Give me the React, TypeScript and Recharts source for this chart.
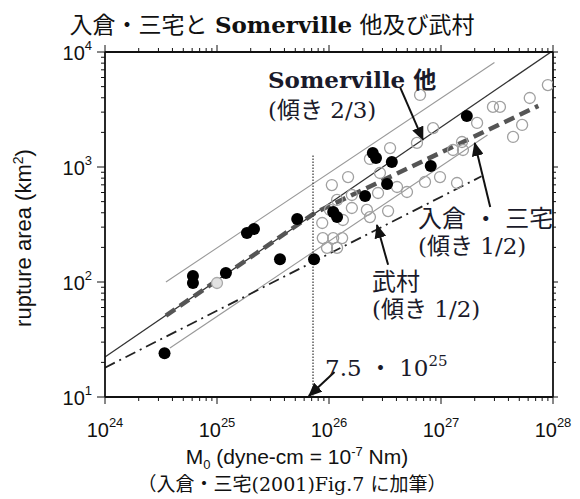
import { ComposedChart, Line, Scatter, XAxis, YAxis, ReferenceLine } from 'recharts'

// seismic moment M0 (dyne-cm) vs rupture area (km2)
const filledM0 = [3.4e24, 6.1e24, 6.1e24, 1.2e25, 1.85e25, 2.14e25, 3.65e25, 5.2e25, 7.35e25, 1.09e26, 1.18e26, 2.1e26, 3.3e26, 2.46e26, 2.63e26, 3.64e26, 8.1e26, 1.7e27]
const filledArea = [24, 113, 98, 120, 267, 289, 158, 353, 158, 406, 367, 560, 711, 1325, 1200, 1105, 1020, 2770]

const openM0 = [
  3.51e26, 2.32e26, 2.85e26, 1.48e26, 1.06e26, 1.6e26, 1.18e26, 1.6e26, 1.33e26, 8.7e25,
  8.8e25, 1.09e26, 1.31e26, 9.6e25, 1.18e26, 4.97e26, 3.37e26, 6.5e26, 8.5e26, 6.1e26,
  1.28e27, 1.57e27, 2.91e27, 3.36e27, 2.1e27, 4.4e27, 6.2e27, 9.0e27, 9.8e26, 1.39e27,
  4.05e26, 5.3e27, 1.54e27, 7.2e26, 1.02e26, 2.18e26, 2.74e26, 2.32e26,
]
const openArea = [
  1462, 1175, 887, 818, 697, 571, 517, 440, 346, 326,
  241, 241, 241, 198, 198, 606, 414, 4230, 2180, 1620,
  1406, 1406, 3330, 3330, 2415, 1825, 3980, 5160, 818, 726,
  670, 2320, 1650, 741, 423, 423, 594, 367,
]
const greyM0 = [1.0e25]
const greyArea = [98]

// scaling relations, end points
const somervilleM0 = [1e24, 9.6e27]
const somervilleArea = [22.3, 10000]
const upperM0 = [3.5e24, 3.0e27]
const upperArea = [100, 8100]
const lowerM0 = [3.8e24, 2.6e27]
const lowerArea = [26.7, 1900]
const irikuraM0 = [3.5e24, 7.5e25, 7.4e27]
const irikuraArea = [51, 400, 3400]
const takemuraM0 = [1e24, 2.3e27]
const takemuraArea = [18, 830]
const cornerM0 = [7.2e25, 7.2e25]
const cornerArea = [10, 1300]

// arrows: [fromM0, fromArea, toM0, toArea]
const arrows = [
  [4.3e26, 4970, 6.9e26, 1720],
  [2.75e27, 449, 2.0e27, 1620],
  [3.37e26, 141, 2.68e26, 313],
  [1.12e26, 16.5, 6.6e25, 10.2],
]

const xMajor = [1e24, 1e25, 1e26, 1e27, 1e28]
const yMajor = [1e1, 1e2, 1e3, 1e4]

const pts = (xs: number[], ys: number[]) => xs.map((m, i) => ({ m, a: ys[i] }))

const minorTicks = (majors: number[]) => {
  const out: number[] = []
  majors.forEach((d, i) => {
    out.push(d)
    if (i < majors.length - 1) for (let k = 2; k <= 9; k++) out.push(d * k)
  })
  return out
}
const xTicks = minorTicks(xMajor)
const yTicks = minorTicks(yMajor)

const isMajor = (v: number) => Math.abs(Math.log10(v) - Math.round(Math.log10(v))) < 1e-6
const expOf = (v: number) => Math.round(Math.log10(v))

const SANS = '"Liberation Sans", Arial, sans-serif'
const SERIF = '"DejaVu Serif", "Noto Sans CJK JP", serif'
const INK = '#111'

const BottomTick = (p: any) => {
  const v = p.payload.value
  const big = isMajor(v)
  return (
    <g>
      <line x1={p.x} x2={p.x} y1={p.y} y2={p.y + (big ? 7 : 4)} stroke={INK} strokeWidth={1} />
      {big && (
        <text x={p.x} y={p.y + 40} textAnchor="middle" fontFamily={SANS} fontSize={20} fill={INK}>
          10<tspan dy={-10} fontSize={13}>{expOf(v)}</tspan>
        </text>
      )}
    </g>
  )
}

const TopTick = (p: any) => {
  const big = isMajor(p.payload.value)
  return <line x1={p.x} x2={p.x} y1={p.y} y2={p.y - (big ? 7 : 4)} stroke={INK} strokeWidth={1} />
}

const LeftTick = (p: any) => {
  const v = p.payload.value
  const big = isMajor(v)
  return (
    <g>
      <line x1={p.x} x2={p.x - (big ? 8 : 4)} y1={p.y} y2={p.y} stroke={INK} strokeWidth={1} />
      {big && (
        <text x={p.x - 13} y={p.y + 8} textAnchor="end" fontFamily={SANS} fontSize={20} fill={INK}>
          10<tspan dy={-10} fontSize={13}>{expOf(v)}</tspan>
        </text>
      )}
    </g>
  )
}

const RightTick = (p: any) => {
  const big = isMajor(p.payload.value)
  return <line x1={p.x} x2={p.x + (big ? 5 : 3)} y1={p.y} y2={p.y} stroke={INK} strokeWidth={1} />
}

const OpenDot = (p: any) => <circle cx={p.cx} cy={p.cy} r={5.5} fill="none" stroke="#a0a0a0" strokeWidth={1.3} />
const GreyDot = (p: any) => <circle cx={p.cx} cy={p.cy} r={5.5} fill="#e2e2e2" stroke="#aaa" strokeWidth={1.3} />
const FilledDot = (p: any) => <circle cx={p.cx} cy={p.cy} r={6} fill="#000" />

export default function App() {
  const axisLine = { stroke: INK, strokeWidth: 1.8 }
  return (
    <div style={{ position: 'absolute', left: 0, top: 0, width: 580, height: 499, background: '#fff' }}>
      <ComposedChart width={580} height={499} margin={{ top: 42, right: 17, bottom: 57, left: 60 }}>
        <defs>
          <marker id="head" markerUnits="userSpaceOnUse" markerWidth={14} markerHeight={12} refX={13} refY={6} orient="auto">
            <path d="M0,0 L14,6 L0,12 z" fill={INK} />
          </marker>
        </defs>
        <XAxis dataKey="m" type="number" scale="log" domain={[1e24, 1e28]} ticks={xTicks} interval={0}
          height={45} tickSize={0} tickMargin={0} tickLine={false} axisLine={axisLine} tick={BottomTick} allowDataOverflow />
        <XAxis xAxisId="top" orientation="top" dataKey="m" type="number" scale="log" domain={[1e24, 1e28]} ticks={xTicks}
          interval={0} height={10} tickSize={0} tickMargin={0} tickLine={false} axisLine={axisLine} tick={TopTick} allowDataOverflow />
        <YAxis dataKey="a" type="number" scale="log" domain={[10, 10000]} ticks={yTicks} interval={0}
          width={45} tickSize={0} tickMargin={0} tickLine={false} axisLine={axisLine} tick={LeftTick} allowDataOverflow />
        <YAxis yAxisId="right" orientation="right" dataKey="a" type="number" scale="log" domain={[10, 10000]} ticks={yTicks}
          interval={0} width={10} tickSize={0} tickMargin={0} tickLine={false} axisLine={axisLine} tick={RightTick} allowDataOverflow />

        <Line data={pts(upperM0, upperArea)} dataKey="a" type="linear" stroke="#999" strokeWidth={1.1} dot={false} isAnimationActive={false} />
        <Line data={pts(lowerM0, lowerArea)} dataKey="a" type="linear" stroke="#999" strokeWidth={1.1} dot={false} isAnimationActive={false} />
        <Line data={pts(somervilleM0, somervilleArea)} dataKey="a" type="linear" stroke="#333" strokeWidth={1.3} dot={false} isAnimationActive={false} />
        <Line data={pts(takemuraM0, takemuraArea)} dataKey="a" type="linear" stroke="#222" strokeWidth={1.8}
          strokeDasharray="11 5 2 5" dot={false} isAnimationActive={false} />
        <Line data={pts(irikuraM0, irikuraArea)} dataKey="a" type="linear" stroke="#555" strokeWidth={4.5}
          strokeDasharray="11 6" dot={false} isAnimationActive={false} />
        <Line data={pts(cornerM0, cornerArea)} dataKey="a" type="linear" stroke="#333" strokeWidth={1.2}
          strokeDasharray="1.5 1.5" dot={false} isAnimationActive={false} />

        <Scatter data={pts(openM0, openArea)} shape={OpenDot} isAnimationActive={false} />
        <Scatter data={pts(greyM0, greyArea)} shape={GreyDot} isAnimationActive={false} />
        <Scatter data={pts(filledM0, filledArea)} shape={FilledDot} isAnimationActive={false} />

        {arrows.map((r, i) => (
          <ReferenceLine key={i} segment={[{ x: r[0], y: r[1] }, { x: r[2], y: r[3] }]} stroke={INK} strokeWidth={2}
            markerEnd="url(#head)" ifOverflow="visible" />
        ))}
      </ComposedChart>

      <svg width={580} height={499} style={{ position: 'absolute', left: 0, top: 0, pointerEvents: 'none' }}>
        <text x={272} y={33} textAnchor="middle" fontFamily={SERIF} fontSize={23} fill={INK}>
          入倉・三宅と <tspan fontWeight="bold">Somerville</tspan> 他及び武村
        </text>
        <text transform="translate(31,238) rotate(-90)" textAnchor="middle" fontFamily={SANS} fontSize={22} fill={INK}>
          rupture area (km<tspan dy={-8} fontSize={14}>2</tspan><tspan dy={8}>)</tspan>
        </text>
        <text x={297} y={464} textAnchor="middle" fontFamily={SANS} fontSize={21} fill={INK}>
          M<tspan dy={5} fontSize={13}>0</tspan><tspan dy={-5}> (dyne-cm = 10</tspan>
          <tspan dy={-8} fontSize={13}>-7</tspan><tspan dy={8}> Nm)</tspan>
        </text>
        <text x={292} y={491} textAnchor="middle" fontFamily={SERIF} fontSize={19} fill={INK}>
          （入倉・三宅(2001)Fig.7 に加筆）
        </text>

        <g fontFamily={SERIF} fontSize={23} fill="#1a1a2a">
          <text x={268} y={88} fontWeight="bold">Somerville 他</text>
          <text x={268} y={118}>(傾き 2/3)</text>
          <text x={418} y={227} fontSize={24}>入倉 ・ 三宅</text>
          <text x={418} y={254}>(傾き 1/2)</text>
          <text x={372} y={290} fontSize={24}>武村</text>
          <text x={372} y={317}>(傾き 1/2)</text>
          <text x={325} y={376}>7.5 ・ 10<tspan dy={-10} fontSize={15}>25</tspan></text>
        </g>
      </svg>
    </div>
  )
}
